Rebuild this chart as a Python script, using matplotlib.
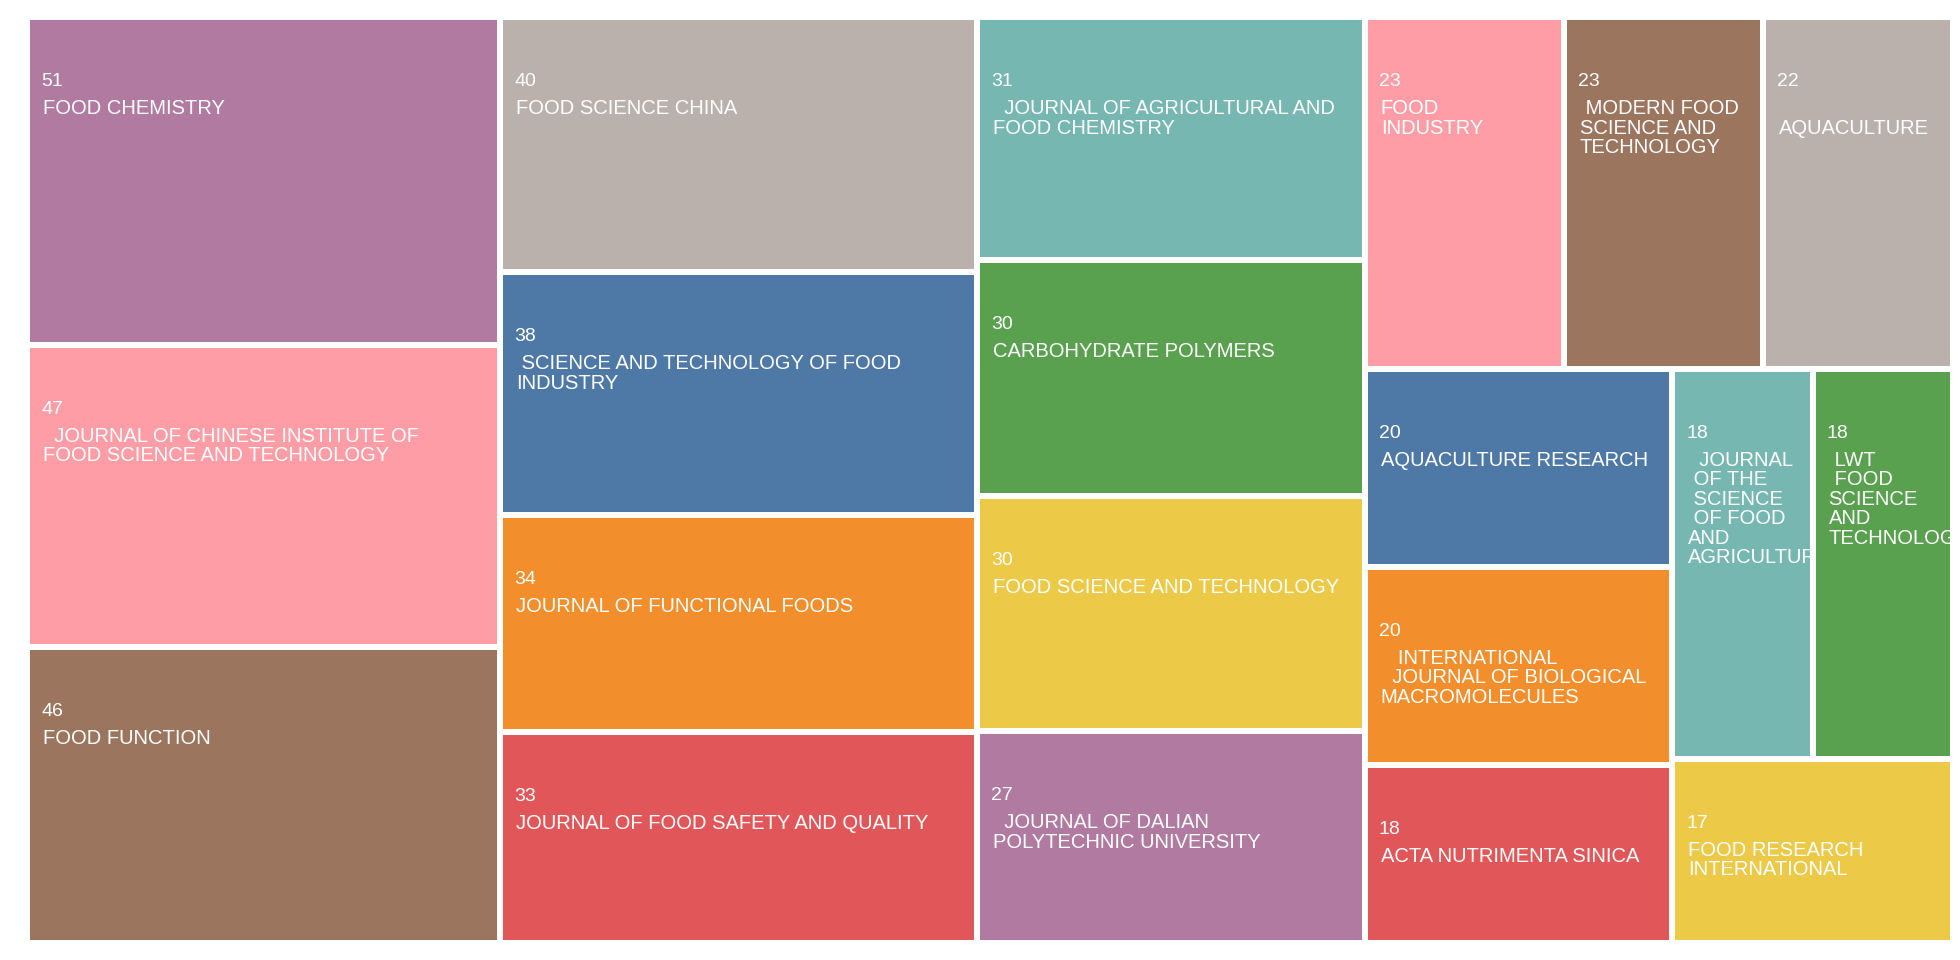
import math
import matplotlib.pyplot as plt
from matplotlib.patches import Rectangle

# journals and number of papers, in the order the treemap lays them out
journals = [
    "FOOD CHEMISTRY",
    "  JOURNAL OF CHINESE INSTITUTE OF\nFOOD SCIENCE AND TECHNOLOGY",
    "FOOD FUNCTION",
    "FOOD SCIENCE CHINA",
    " SCIENCE AND TECHNOLOGY OF FOOD\nINDUSTRY",
    "JOURNAL OF FUNCTIONAL FOODS",
    "JOURNAL OF FOOD SAFETY AND QUALITY",
    "  JOURNAL OF AGRICULTURAL AND\nFOOD CHEMISTRY",
    "CARBOHYDRATE POLYMERS",
    "FOOD SCIENCE AND TECHNOLOGY",
    "  JOURNAL OF DALIAN\nPOLYTECHNIC UNIVERSITY",
    "FOOD\nINDUSTRY",
    " MODERN FOOD\nSCIENCE AND\nTECHNOLOGY",
    " \nAQUACULTURE",
    "AQUACULTURE RESEARCH",
    "   INTERNATIONAL\n  JOURNAL OF BIOLOGICAL\nMACROMOLECULES",
    "ACTA NUTRIMENTA SINICA",
    "  JOURNAL\n OF THE\n SCIENCE\n OF FOOD\nAND\nAGRICULTURE",
    " LWT\n FOOD\nSCIENCE\nAND\nTECHNOLOGY",
    "FOOD RESEARCH\nINTERNATIONAL",
]
papers = [51, 47, 46, 40, 38, 34, 33, 31, 30, 30, 27, 23, 23, 22, 20, 20, 18, 18, 18, 17]

palette = ['#4E79A7', '#F28E2B', '#E15759', '#76B7B2', '#59A14F',
           '#EDC948', '#B07AA1', '#FF9DA7', '#9C755F', '#BAB0AC']
colours = [palette[(6 + i) % len(palette)] for i in range(len(papers))]  # starts at purple

W, H = 1960, 960
half_gap = 3.0
φ = 0.5*(1 + math.sqrt(5))  # echarts squareRatio


def worst(row, fixed):
    areas = [a for _, a in row]
    S = sum(areas)
    f = fixed*fixed*φ
    return max(f*max(areas)/S**2, S**2/(f*min(areas)))


def position(row, fixed, rect, flush, out):
    # rect = [x, y, w, h]; lay the row along the fixed side
    horiz = fixed == rect[2]
    area = sum(a for _, a in row)
    other = area/fixed if fixed else 0
    span = rect[3] if horiz else rect[2]
    if flush or other > span:
        other = span
    last = rect[0] if horiz else rect[1]
    end = (rect[0] + rect[2]) if horiz else (rect[1] + rect[3])
    for k, (i, a) in enumerate(row):
        step = a/other if other else 0
        remain = end - last
        mod = remain if (k == len(row) - 1 or remain < step) else step
        if horiz:
            out[i] = (last + half_gap, rect[1] + half_gap, mod - 2*half_gap, other - 2*half_gap)
        else:
            out[i] = (rect[0] + half_gap, last + half_gap, other - 2*half_gap, mod - 2*half_gap)
        last += mod
    if horiz:
        rect[1] += other
        rect[3] -= other
    else:
        rect[0] += other
        rect[2] -= other


def squarify(values, x, y, w, h):
    total = sum(values)
    areas = [v*w*h/total for v in values]
    rect = [x, y, w, h]
    out = [None]*len(values)
    fixed = min(w, h)
    best = math.inf
    row = []
    i = 0
    while i < len(areas):
        row.append((i, areas[i]))
        score = worst(row, fixed)
        if score <= best:
            i += 1
            best = score
        else:
            row.pop()
            position(row, fixed, rect, False, out)
            fixed = min(rect[2], rect[3])
            row = []
            best = math.inf
    if row:
        position(row, fixed, rect, True, out)
    return out


rects = squarify(papers, 30 - half_gap, 20 - half_gap, 1920 + 2*half_gap, 920 + 2*half_gap)

plt.rcParams['font.family'] = ['Liberation Sans', 'DejaVu Sans']

fig = plt.figure(figsize=(W/100, H/100), dpi=100)
ax = fig.add_axes([0, 0, 1, 1])
ax.set_xlim(0, W)
ax.set_ylim(H, 0)
ax.axis('off')

for (x, y, w, h), n, name, c in zip(rects, papers, journals, colours):
    box = Rectangle((x, y), w, h, facecolor=c, edgecolor='none')
    ax.add_patch(box)
    t = ax.text(x + 11, y + 66, str(n), color='white', fontsize=14, ha='left', va='baseline',
                clip_on=True)
    t.set_clip_path(box)
    for k, line in enumerate(name.split('\n')):
        t = ax.text(x + 13, y + 94 + 19.5*k, line, color='white', fontsize=14.5,
                    ha='left', va='baseline', clip_on=True)
        t.set_clip_path(box)  # long names get cut at the tile edge

fig.savefig('out.png', dpi=100)
